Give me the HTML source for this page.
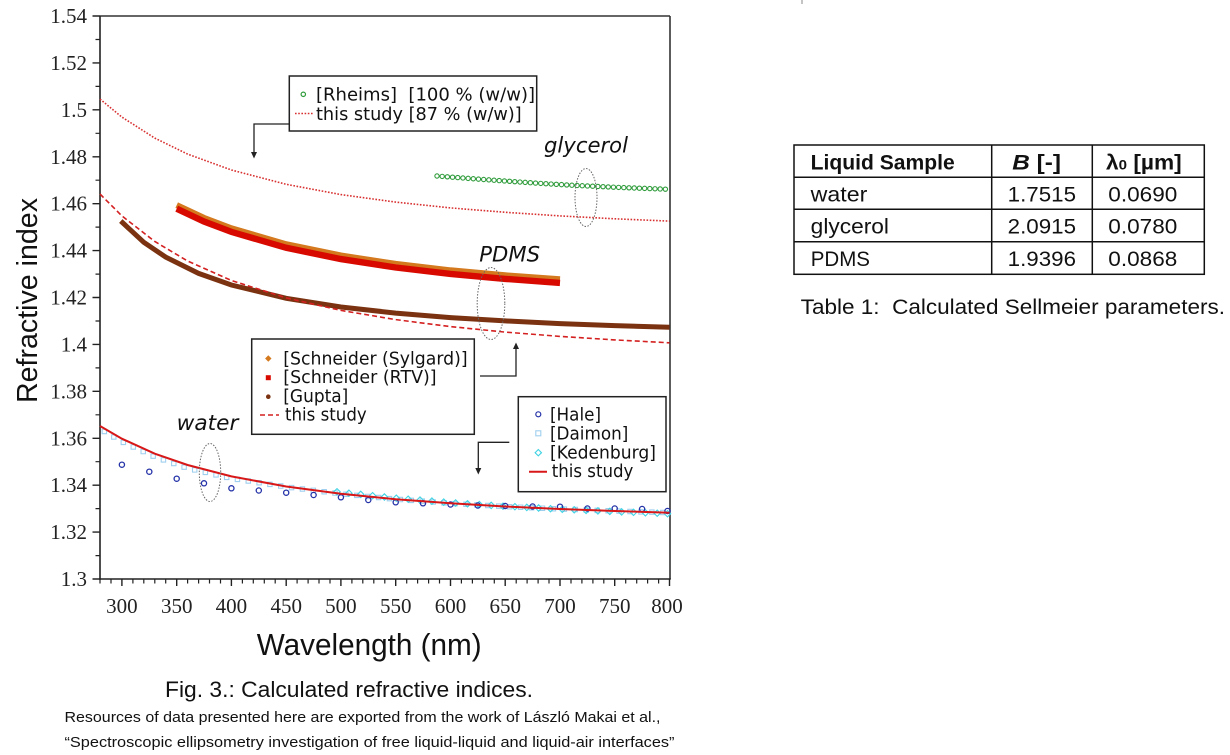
<!DOCTYPE html>
<html>
<head>
<meta charset="utf-8">
<style>
  html,body{margin:0;padding:0;background:#fff;}
  svg{display:block;}
  .tick{font-family:"Liberation Serif",serif;font-size:21px;fill:#222;}
  .leg{font-family:"DejaVu Sans",sans-serif;font-size:17.5px;fill:#111;white-space:pre;}
  .lab{font-family:"DejaVu Sans",sans-serif;font-size:21px;font-style:italic;fill:#111;}
  .cap{font-family:"Liberation Sans",sans-serif;fill:#111;}
</style>
</head>
<body>
<svg width="1230" height="755" viewBox="0 0 1230 755" xmlns="http://www.w3.org/2000/svg">
  <defs>
    <path id="kd" d="M0,-3.2 L3.2,0 L0,3.2 L-3.2,0 Z" fill="none" stroke="#3fd3e3" stroke-width="1.1"/>
  </defs>
  <rect x="0" y="0" width="1230" height="755" fill="#fff"/>

  <line x1="802" y1="0" x2="802" y2="4" stroke="#888" stroke-width="1"/>

  <!-- ===== Axes frame ===== -->
  <line x1="100" y1="16" x2="670" y2="16" stroke="#333" stroke-width="1.6"/>
  <line x1="670" y1="16" x2="670" y2="579" stroke="#333" stroke-width="1.6"/>
  <line x1="100" y1="16" x2="100" y2="579.8" stroke="#222" stroke-width="1.6"/>
  <line x1="99.2" y1="579" x2="670.8" y2="579" stroke="#222" stroke-width="1.6"/>

  <path d="M92.5,16H100 M92.5,62.9H100 M92.5,109.8H100 M92.5,156.8H100 M92.5,203.7H100 M92.5,250.6H100 M92.5,297.5H100 M92.5,344.4H100 M92.5,391.3H100 M92.5,438.3H100 M92.5,485.2H100 M92.5,532.1H100 M92.5,579H100" stroke="#222" stroke-width="1.4"/>
  <path d="M95.5,39.5H100 M95.5,86.4H100 M95.5,133.3H100 M95.5,180.2H100 M95.5,227.1H100 M95.5,274.1H100 M95.5,321H100 M95.5,367.9H100 M95.5,414.8H100 M95.5,461.7H100 M95.5,508.6H100 M95.5,555.6H100" stroke="#222" stroke-width="1.2"/>

  <path d="M121.9,579V586 M176.7,579V586 M231.4,579V586 M286.2,579V586 M340.9,579V586 M395.7,579V586 M450.5,579V586 M505.2,579V586 M560,579V586 M614.7,579V586 M669.5,579V586" stroke="#222" stroke-width="1.4"/>
  <path d="M100,579V583.5 M111,579V583.5 M132.9,579V583.5 M143.8,579V583.5 M154.8,579V583.5 M165.7,579V583.5 M187.6,579V583.5 M198.6,579V583.5 M209.5,579V583.5 M220.5,579V583.5 M242.4,579V583.5 M253.3,579V583.5 M264.3,579V583.5 M275.2,579V583.5 M297.1,579V583.5 M308.1,579V583.5 M319,579V583.5 M330,579V583.5 M351.9,579V583.5 M362.8,579V583.5 M373.8,579V583.5 M384.8,579V583.5 M406.7,579V583.5 M417.6,579V583.5 M428.6,579V583.5 M439.5,579V583.5 M461.4,579V583.5 M472.4,579V583.5 M483.3,579V583.5 M494.3,579V583.5 M516.2,579V583.5 M527.1,579V583.5 M538.1,579V583.5 M549,579V583.5 M571,579V583.5 M581.9,579V583.5 M592.9,579V583.5 M603.8,579V583.5 M625.7,579V583.5 M636.7,579V583.5 M647.6,579V583.5 M658.6,579V583.5" stroke="#222" stroke-width="1.2"/>

  <g class="tick" text-anchor="end">
    <text x="87" y="23">1.54</text>
    <text x="87" y="69.9">1.52</text>
    <text x="87" y="116.8">1.5</text>
    <text x="87" y="163.8">1.48</text>
    <text x="87" y="210.7">1.46</text>
    <text x="87" y="257.6">1.44</text>
    <text x="87" y="304.5">1.42</text>
    <text x="87" y="351.4">1.4</text>
    <text x="87" y="398.3">1.38</text>
    <text x="87" y="445.3">1.36</text>
    <text x="87" y="492.2">1.34</text>
    <text x="87" y="539.1">1.32</text>
    <text x="87" y="586">1.3</text>
  </g>
  <g class="tick" text-anchor="middle">
    <text x="121.9" y="613">300</text>
    <text x="176.7" y="613">350</text>
    <text x="231.4" y="613">400</text>
    <text x="286.2" y="613">450</text>
    <text x="340.9" y="613">500</text>
    <text x="395.7" y="613">550</text>
    <text x="450.5" y="613">600</text>
    <text x="505.2" y="613">650</text>
    <text x="560" y="613">700</text>
    <text x="614.7" y="613">750</text>
    <text x="667" y="613">800</text>
  </g>

  <text transform="translate(37,300.5) rotate(-90)" text-anchor="middle" font-family="Liberation Sans, sans-serif" font-size="28.5" fill="#111" textLength="205" lengthAdjust="spacingAndGlyphs">Refractive index</text>
  <text x="256.7" y="655" font-family="Liberation Sans, sans-serif" font-size="31" fill="#111" textLength="225" lengthAdjust="spacingAndGlyphs">Wavelength (nm)</text>

  <!-- ===== Series ===== -->
  <polyline fill="none" stroke="#d83030" stroke-width="1.6" stroke-dasharray="1.6 1.6"
    points="100,99.1 121.9,117.1 154.8,138.1 187.6,154.1 231.4,170 286.2,184.3 340.9,194.6 395.7,202.1 450.5,207.9 505.2,212.3 560,215.9 614.7,218.8 669.5,221.1"/>

  <path d="M437,176 L471,178.6 L505,181 L539,183.3 L573,185.3 L621,187.5 L669,189.3" fill="none" stroke="#2e9b3a" stroke-width="5.4" stroke-linecap="round" stroke-dasharray="0 5.2"/>
  <path d="M437,176 L471,178.6 L505,181 L539,183.3 L573,185.3 L621,187.5 L669,189.3" fill="none" stroke="#ffffff" stroke-width="3.2" stroke-linecap="round" stroke-dasharray="0 5.2"/>

  <polyline fill="none" stroke="#d4791e" stroke-width="6"
    points="176.7,205.1 204,217.9 231.4,228.3 286.2,244.2 340.9,255.5 395.7,263.9 450.5,270.3 505.2,275.3 560,279.3"/>
  <polyline fill="none" stroke="#d80a00" stroke-width="6.4"
    points="176.7,208.7 204,221.5 231.4,231.9 286.2,247.8 340.9,259.1 395.7,267.5 450.5,273.9 505.2,278.9 560,282.9"/>

  <polyline fill="none" stroke="#7b3210" stroke-width="5"
    points="120.8,221 143.8,242.3 165.7,257.1 198.6,273.4 231.4,285 286.2,298.3 340.9,307 395.7,313.1 450.5,317.6 505.2,320.9 560,323.6 614.7,325.6 669.5,327.3"/>

  <polyline fill="none" stroke="#d42020" stroke-width="1.6" stroke-dasharray="5 3"
    points="100,194 121.9,215.9 154.8,241.5 187.6,261 231.4,280.5 286.2,297.9 340.9,310.4 395.7,319.6 450.5,326.6 505.2,332.1 560,336.4 614.7,339.9 669.5,342.8"/>

  <path d="M100,429 L121.9,441.7 L154.8,456.9 L187.6,468.3 L231.4,478.4 L286.2,486.9 L340.9,493.8 L395.7,499.2 L450.5,503.3 L505.2,506.5 L560,509 L614.7,511 L669.5,512.7" fill="none" stroke="#9fcfee" stroke-width="5.5" stroke-linecap="square" stroke-dasharray="0 10.95" stroke-dashoffset="-5"/>
  <path d="M100,429 L121.9,441.7 L154.8,456.9 L187.6,468.3 L231.4,478.4 L286.2,486.9 L340.9,493.8 L395.7,499.2 L450.5,503.3 L505.2,506.5 L560,509 L614.7,511 L669.5,512.7" fill="none" stroke="#ffffff" stroke-width="3.3" stroke-linecap="square" stroke-dasharray="0 10.95" stroke-dashoffset="-5"/>

  <g>
    <use href="#kd" x="337" y="491.8"/><use href="#kd" x="348.9" y="493.2"/><use href="#kd" x="360.7" y="494.4"/>
    <use href="#kd" x="372.6" y="495.7"/><use href="#kd" x="384.4" y="497"/><use href="#kd" x="396.3" y="498.2"/>
    <use href="#kd" x="408.2" y="499.2"/><use href="#kd" x="420" y="500.1"/><use href="#kd" x="431.9" y="501.1"/>
    <use href="#kd" x="443.7" y="502.1"/><use href="#kd" x="455.6" y="503"/><use href="#kd" x="467.5" y="503.8"/>
    <use href="#kd" x="479.3" y="504.6"/><use href="#kd" x="491.2" y="505.4"/><use href="#kd" x="503" y="506.2"/>
    <use href="#kd" x="514.9" y="506.7"/><use href="#kd" x="526.8" y="507.4"/><use href="#kd" x="538.6" y="508"/>
    <use href="#kd" x="550.5" y="508.7"/><use href="#kd" x="562.3" y="509.3"/><use href="#kd" x="574.2" y="509.8"/>
    <use href="#kd" x="586.1" y="510.4"/><use href="#kd" x="597.9" y="510.9"/><use href="#kd" x="609.8" y="511.4"/>
    <use href="#kd" x="621.6" y="511.9"/><use href="#kd" x="633.5" y="512.3"/><use href="#kd" x="645.4" y="512.8"/>
    <use href="#kd" x="657.2" y="513.2"/><use href="#kd" x="667.5" y="513.7"/>
  </g>

  <g fill="none" stroke="#2533a8" stroke-width="1.3">
    <circle cx="121.9" cy="464.7" r="2.6"/><circle cx="149.3" cy="471.7" r="2.6"/><circle cx="176.7" cy="478.7" r="2.6"/>
    <circle cx="204" cy="483.3" r="2.6"/><circle cx="231.4" cy="488.3" r="2.6"/><circle cx="258.8" cy="490.5" r="2.6"/>
    <circle cx="286.2" cy="492.7" r="2.6"/><circle cx="313.6" cy="495" r="2.6"/><circle cx="340.9" cy="497.3" r="2.6"/>
    <circle cx="368.3" cy="500" r="2.6"/><circle cx="395.7" cy="502.3" r="2.6"/><circle cx="423" cy="503.3" r="2.6"/>
    <circle cx="450.5" cy="504.5" r="2.6"/><circle cx="477.8" cy="505.5" r="2.6"/><circle cx="505.2" cy="506" r="2.6"/>
    <circle cx="532.6" cy="506.5" r="2.6"/><circle cx="560" cy="506.7" r="2.6"/><circle cx="587.4" cy="508.5" r="2.6"/>
    <circle cx="614.7" cy="508.5" r="2.6"/><circle cx="642.1" cy="509" r="2.6"/><circle cx="667.5" cy="511" r="2.6"/>
  </g>

  <polyline fill="none" stroke="#d81818" stroke-width="2"
    points="100,426 121.9,438.7 154.8,453.7 187.6,465 231.4,476.4 286.2,486.5 340.9,493.8 395.7,499.2 450.5,503.3 505.2,506.5 560,509 614.7,511 669.5,512.7"/>

  <g fill="none" stroke="#666" stroke-width="1" stroke-dasharray="1.5 1.5">
    <ellipse cx="586" cy="197.5" rx="11" ry="29"/>
    <ellipse cx="491" cy="303.5" rx="13.8" ry="36"/>
    <ellipse cx="210" cy="472.5" rx="10.7" ry="29"/>
  </g>

  <text class="lab" x="544" y="152.5" textLength="84" lengthAdjust="spacingAndGlyphs">glycerol</text>
  <text class="lab" x="479.3" y="261.7" textLength="60.7" lengthAdjust="spacingAndGlyphs">PDMS</text>
  <text class="lab" x="176.7" y="430" textLength="61.7" lengthAdjust="spacingAndGlyphs">water</text>

  <!-- Legend 1 -->
  <rect x="289.3" y="76" width="247.4" height="55" fill="#fff" stroke="#222" stroke-width="1.5"/>
  <circle cx="303.3" cy="94.3" r="2.2" fill="none" stroke="#2e9b3a" stroke-width="1.2"/>
  <line x1="295" y1="113.5" x2="313" y2="113.5" stroke="#d83030" stroke-width="1.6" stroke-dasharray="1.6 1.6"/>
  <text class="leg" x="316" y="100.3" textLength="219" lengthAdjust="spacingAndGlyphs">[Rheims]  [100 % (w/w)]</text>
  <text class="leg" x="316" y="120" textLength="205.7" lengthAdjust="spacingAndGlyphs">this study [87 % (w/w)]</text>
  <path d="M289.3,124 H254 V154" fill="none" stroke="#222" stroke-width="1.3"/>
  <path d="M251,152 L254,158.5 L257,152 Z" fill="#222"/>

  <!-- Legend 2 -->
  <rect x="251.7" y="339" width="222.6" height="95.3" fill="#fff" stroke="#222" stroke-width="1.5"/>
  <path d="M268.3,355.3 L271.5,358.5 L268.3,361.7 L265.1,358.5 Z" fill="#d4791e"/>
  <rect x="265.8" y="375.2" width="5" height="5" fill="#d80a00"/>
  <circle cx="268.3" cy="396.7" r="2.3" fill="#7b3210"/>
  <line x1="260" y1="415" x2="279" y2="415" stroke="#d42020" stroke-width="1.6" stroke-dasharray="5 3"/>
  <text class="leg" x="283.3" y="364.5" textLength="184.3" lengthAdjust="spacingAndGlyphs">[Schneider (Sylgard)]</text>
  <text class="leg" x="283.3" y="383.2" textLength="153.3" lengthAdjust="spacingAndGlyphs">[Schneider (RTV)]</text>
  <text class="leg" x="283.3" y="401.9" textLength="65" lengthAdjust="spacingAndGlyphs">[Gupta]</text>
  <text class="leg" x="285" y="420.6" textLength="81.7" lengthAdjust="spacingAndGlyphs">this study</text>
  <path d="M480,376 H516 V347" fill="none" stroke="#222" stroke-width="1.3"/>
  <path d="M513,349 L516,342.5 L519,349 Z" fill="#222"/>

  <!-- Legend 3 -->
  <rect x="518.3" y="396.7" width="147.7" height="95" fill="#fff" stroke="#222" stroke-width="1.5"/>
  <circle cx="538.3" cy="414.3" r="2.5" fill="none" stroke="#2533a8" stroke-width="1.2"/>
  <rect x="535.8" y="430.8" width="5" height="5" fill="none" stroke="#9fcfee" stroke-width="1.1"/>
  <path d="M538.3,449.5 L541.5,452.7 L538.3,455.9 L535.1,452.7 Z" fill="none" stroke="#3fd3e3" stroke-width="1.1"/>
  <line x1="529" y1="471.7" x2="547" y2="471.7" stroke="#d81818" stroke-width="2"/>
  <text class="leg" x="550" y="420.5" textLength="51" lengthAdjust="spacingAndGlyphs">[Hale]</text>
  <text class="leg" x="550" y="439.4" textLength="78.3" lengthAdjust="spacingAndGlyphs">[Daimon]</text>
  <text class="leg" x="550" y="458.3" textLength="106" lengthAdjust="spacingAndGlyphs">[Kedenburg]</text>
  <text class="leg" x="551.7" y="477.2" textLength="81.7" lengthAdjust="spacingAndGlyphs">this study</text>
  <path d="M509.3,442.3 H478.3 V470" fill="none" stroke="#222" stroke-width="1.3"/>
  <path d="M475.3,468 L478.3,474.5 L481.3,468 Z" fill="#222"/>

  <!-- Captions -->
  <text class="cap" x="165" y="697" font-size="22" textLength="368" lengthAdjust="spacingAndGlyphs">Fig. 3.: Calculated refractive indices.</text>
  <text class="cap" x="64.5" y="722" font-size="15" textLength="596" lengthAdjust="spacingAndGlyphs">Resources of data presented here are exported from the work of László Makai et al.,</text>
  <text class="cap" x="64.5" y="747" font-size="15" textLength="610" lengthAdjust="spacingAndGlyphs">“Spectroscopic ellipsometry investigation of free liquid-liquid and liquid-air interfaces”</text>

  <!-- Table -->
  <g stroke="#111" stroke-width="1.5" fill="none">
    <rect x="794" y="145" width="410.3" height="129.3"/>
    <line x1="794" y1="177.3" x2="1204.3" y2="177.3"/>
    <line x1="794" y1="209.3" x2="1204.3" y2="209.3"/>
    <line x1="794" y1="241.7" x2="1204.3" y2="241.7"/>
    <line x1="991.7" y1="145" x2="991.7" y2="274.3"/>
    <line x1="1092.3" y1="145" x2="1092.3" y2="274.3"/>
  </g>
  <g class="cap" font-size="21">
    <text x="810.7" y="169.3" font-weight="bold" textLength="144" lengthAdjust="spacingAndGlyphs">Liquid Sample</text>
    <text x="1012.3" y="169.3" font-weight="bold" textLength="48.7" lengthAdjust="spacingAndGlyphs"><tspan font-style="italic">B</tspan> [-]</text>
    <text x="1106" y="169.3" font-weight="bold" textLength="75.7" lengthAdjust="spacingAndGlyphs">λ<tspan font-size="14">0</tspan> [µm]</text>

    <text x="810.7" y="201.7" textLength="56.6" lengthAdjust="spacingAndGlyphs">water</text>
    <text x="1007.7" y="201.7" textLength="68.3" lengthAdjust="spacingAndGlyphs">1.7515</text>
    <text x="1108.3" y="201.7" textLength="69" lengthAdjust="spacingAndGlyphs">0.0690</text>

    <text x="810.7" y="233.6" textLength="78.3" lengthAdjust="spacingAndGlyphs">glycerol</text>
    <text x="1007.7" y="233.6" textLength="68.3" lengthAdjust="spacingAndGlyphs">2.0915</text>
    <text x="1108.3" y="233.6" textLength="69" lengthAdjust="spacingAndGlyphs">0.0780</text>

    <text x="810.7" y="266.2" textLength="59.3" lengthAdjust="spacingAndGlyphs">PDMS</text>
    <text x="1007.7" y="266.2" textLength="68.3" lengthAdjust="spacingAndGlyphs">1.9396</text>
    <text x="1108.3" y="266.2" textLength="69" lengthAdjust="spacingAndGlyphs">0.0868</text>
  </g>
  <text class="cap" x="800.7" y="314" font-size="21.5" textLength="424.3" lengthAdjust="spacingAndGlyphs" style="white-space:pre">Table 1:  Calculated Sellmeier parameters.</text>
</svg>
</body>
</html>
